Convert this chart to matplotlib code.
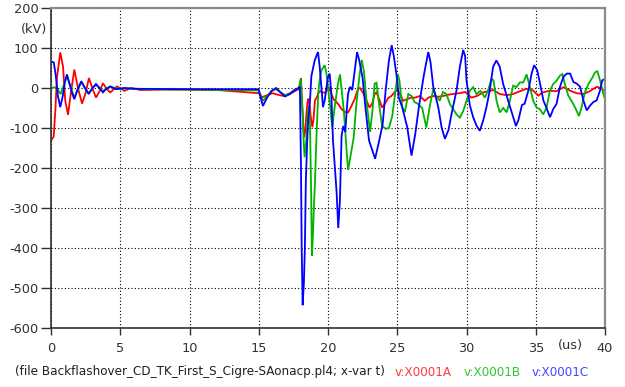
import matplotlib
matplotlib.use("Agg")
import matplotlib.pyplot as plt
import numpy as np

# ---- data (t in us, v in kV) ----
red_points = [(0,-131),(0.19,-122),(0.31,-58),(0.43,27),(0.67,89),(0.87,53),(1.03,-32),(1.23,-67),(1.39,-24),
    (1.68,46),(1.95,0),(2.24,-39),(2.48,-15),(2.74,25),(2.98,0),(3.25,-24),(3.49,-9),(3.75,12),(4.04,-3),(4.28,-11),
    (4.76,4),(5.29,-7),(5.8,0),(6.44,-5),(8,-4),(10,-4),(12,-5),(13.5,-9),(14.6,-12),(15.0,-13),(15.25,-23),(15.6,-18),
    (16.0,-13),(16.4,-17),(16.8,-20),(17.1,-17),(17.5,-10),(17.75,-5),(17.98,-3),(18.05,24),(18.12,-30),(18.19,-81),
    (18.27,-123),(18.35,-110),(18.45,-60),(18.55,-27),(18.63,-30),(18.75,-70),(18.87,-98),(18.95,-80),(19.06,-31),
    (19.2,-22),(19.35,-10),(19.45,-8),(19.6,-11),(19.76,-12),(19.88,-8),(20.05,3),(20.24,-14),(20.4,-28),(20.6,-35),
    (20.8,-43),(20.96,-52),(21.2,-60),(21.45,-61),(21.65,-48),(21.93,-27),(22.17,-2),(22.3,0),(22.5,-10),(22.65,-20),
    (22.82,-35),(23.0,-49),(23.2,-38),(23.37,-15),(23.5,-11),(23.73,-31),(23.9,-49),(24.1,-40),(24.35,-25),(24.58,-20),
    (24.82,-10),(25.0,-3),(25.2,-15),(25.42,-32),(25.7,-28),(26.02,-24),(26.3,-24),(26.63,-20),(26.99,-32),(27.25,-24),
    (27.6,-20),(27.95,-22),(28.3,-20),(28.8,-16),(29.5,-13),(29.9,-10),(30.36,-24),(30.75,-20),(31.2,-11),(31.93,-5),
    (32.4,-15),(32.9,-18),(33.37,-15),(33.86,-8),(34.34,-2),(34.8,-6),(35.18,-19),(35.5,-11),(36.0,-7),(36.5,-8),
    (37.0,2),(37.5,-7),(37.95,-13),(38.43,-15),(38.9,-8),(39.4,3),(39.7,0),(40.0,-8)]

green_points = [(0,0),(0.3,2),(0.5,-5),(0.7,-15),(0.9,5),(1.15,30),(1.4,5),(1.68,-25),(1.95,-3),(2.2,15),(2.45,0),
    (2.72,-13),(3.0,0),(3.25,8),(3.5,0),(3.75,-8),(4.0,-1),(4.28,3),(4.8,-2),(5.5,-1),(7,-3),(10,-4),(13,-5),(15.0,-6),
    (15.3,-32),(15.6,-20),(15.94,-7),(16.25,-3),(16.6,-12),(16.9,-18),(17.3,-12),(17.6,-4),(17.9,0),(18.02,23),(18.1,-20),
    (18.19,-73),(18.24,-131),(18.31,-173),(18.43,-131),(18.55,-60),(18.63,-45),(18.7,-90),(18.78,-257),(18.84,-420),
    (18.92,-360),(18.98,-300),(19.06,-233),(19.18,-109),(19.3,-10),(19.4,20),(19.52,44),(19.76,57),(19.88,38),(20.12,-35),
    (20.31,-98),(20.48,-48),(20.72,11),(20.87,34),(21.0,-10),(21.15,-60),(21.33,-150),(21.45,-205),(21.6,-175),(21.85,-125),
    (22.05,-39),(22.29,36),(22.44,70),(22.6,40),(22.8,-40),(23.04,-110),(23.2,-60),(23.37,11),(23.5,13),(23.65,-31),
    (23.9,-94),(24.16,-102),(24.4,-100),(24.64,-70),(24.88,-5),(25.03,35),(25.15,20),(25.36,-48),(25.55,-60),(25.8,-15),
    (26.03,-20),(26.25,-35),(26.5,-40),(26.8,-50),(27.1,-99),(27.35,-45),(27.6,-3),(27.8,-20),(28.07,-32),(28.3,-10),
    (28.55,-15),(28.8,-40),(29.28,-66),(29.52,-74),(29.76,-58),(30.0,-32),(30.24,-7),(30.48,2),(30.72,-15),(31.0,-7),
    (31.33,-24),(31.55,-7),(31.8,23),(31.95,19),(32.17,-32),(32.4,-61),(32.65,-50),(32.9,-61),(33.13,-32),(33.37,6),
    (33.6,2),(33.86,14),(34.1,14),(34.34,34),(34.58,2),(34.82,-32),(35.06,-49),(35.3,-53),(35.54,-66),(35.78,-49),
    (36.02,-7),(36.26,10),(36.5,18),(36.75,31),(36.93,35),(37.1,10),(37.35,-19),(37.71,-40),(37.95,-57),(38.12,-70),
    (38.3,-49),(38.55,-11),(38.8,10),(39.04,23),(39.28,39),(39.45,42),(39.65,18),(39.88,-15),(40,-28)]

blue_points = [(0,66),(0.2,64),(0.35,30),(0.5,-20),(0.67,-48),(0.85,-20),(1.0,15),(1.15,34),(1.3,15),(1.5,-10),
    (1.68,-28),(1.9,-5),(2.19,17),(2.45,0),(2.72,-15),(3.0,0),(3.25,10),(3.5,0),(3.75,-11),(4.0,-2),(4.28,4),(4.7,-3),
    (5.3,0),(6,-2),(10,-3),(14.98,-3),(15.15,-25),(15.3,-45),(15.6,-24),(15.94,-7),(16.25,0),(16.55,-10),(16.9,-21),
    (17.25,-15),(17.6,-5),(17.86,0),(17.97,3),(18.05,-200),(18.1,-400),(18.17,-543),(18.26,-485),(18.33,-400),
    (18.4,-233),(18.5,-132),(18.57,-82),(18.7,-31),(18.8,30),(19.04,69),(19.28,90),(19.4,53),(19.64,-48),(19.76,-31),
    (20.0,28),(20.12,36),(20.24,-14),(20.36,-131),(20.5,-200),(20.62,-260),(20.74,-350),(20.86,-283),(20.98,-120),
    (21.1,-95),(21.25,-110),(21.35,-56),(21.45,-14),(21.6,3),(21.75,-5),(21.95,50),(22.1,90),(22.25,70),(22.5,25),
    (22.7,-48),(22.96,-131),(23.2,-156),(23.4,-177),(23.7,-131),(23.95,-90),(24.16,-6),(24.4,69),(24.6,107),(24.75,80),
    (25.0,19),(25.1,-23),(25.36,-48),(25.72,-98),(26.03,-169),(26.3,-115),(26.56,-48),(26.9,28),(27.24,90),(27.4,65),
    (27.6,3),(27.96,-48),(28.2,-98),(28.44,-127),(28.7,-105),(28.92,-65),(29.28,-6),(29.52,53),(29.76,95),(29.9,80),
    (30.0,19),(30.24,-43),(30.48,-73),(30.72,-94),(30.96,-107),(31.2,-82),(31.44,-48),(31.68,-6),(31.92,53),(32.16,69),
    (32.4,53),(32.64,11),(33.0,-31),(33.3,-65),(33.57,-95),(33.75,-80),(34.0,-43),(34.2,-39),(34.47,-6),(34.7,36),
    (34.88,57),(35.1,45),(35.31,11),(35.55,-31),(35.8,-52),(36.03,-73),(36.27,-52),(36.5,-40),(36.75,3),(37.0,28),
    (37.24,36),(37.48,36),(37.72,15),(37.96,11),(38.2,3),(38.44,-31),(38.68,-56),(38.92,-44),(39.16,-35),(39.4,-31),
    (39.64,-6),(39.8,19),(40,23)]

x_ticks = [0, 5, 10, 15, 20, 25, 30, 35, 40]
y_ticks = [-600, -500, -400, -300, -200, -100, 0, 100, 200]
footer_file = "(file Backflashover_CD_TK_First_S_Cigre-SAonacp.pl4; x-var t)"
series_names = ["v:X0001A", "v:X0001B", "v:X0001C"]
series_colors = ["#ff0000", "#00b400", "#0000ff"]
label_colors = ["#ff3b3b", "#2ec82e", "#4646ff"]

W, H = 625, 387
fig = plt.figure(figsize=(W / 100, H / 100), dpi=100)
ax = fig.add_axes([51 / W, 1 - 328 / H, (605 - 51) / W, 320 / H])

for pts, col in zip([red_points, green_points, blue_points], series_colors):
    arr = np.array(pts, dtype=float)
    ax.plot(arr[:, 0], arr[:, 1], color=col, lw=1.3, solid_joinstyle="miter")

ax.set_xlim(0, 40)
ax.set_ylim(-600, 200)
ax.set_xticks(x_ticks)
ax.set_yticks(y_ticks)
ax.set_xticklabels([str(v) for v in x_ticks])
ax.set_yticklabels([str(v) for v in y_ticks])
ax.grid(True, color="black", linestyle=(0, (1, 2)), linewidth=0.8)
ax.set_axisbelow(True)

for s in ["left", "bottom"]:
    ax.spines[s].set_color("#303030")
    ax.spines[s].set_linewidth(1.2)
for s in ["top", "right"]:
    ax.spines[s].set_color("#8a8a8a")
    ax.spines[s].set_linewidth(1.6)

ax.tick_params(axis="both", colors="#303030", labelcolor="#303030", labelsize=9.3, width=1)
ax.tick_params(axis="y", length=7, pad=2)
ax.tick_params(axis="x", length=5, pad=5)

fig.text(47 / W, 1 - 30 / H, "(kV)", ha="right", va="center", fontsize=9.3, color="#303030")
fig.text(570 / W, 1 - 346 / H, "(us)", ha="center", va="center", fontsize=9.3, color="#303030")

fig.text(15 / W, 1 - 372 / H, footer_file, ha="left", va="center", fontsize=8.65, color="#202020")
for xpos, name, col in zip([395, 464, 532], series_names, label_colors):
    fig.text(xpos / W, 1 - 372 / H, name, ha="left", va="center", fontsize=8.65, color=col)

fig.savefig("out.png", dpi=100)
